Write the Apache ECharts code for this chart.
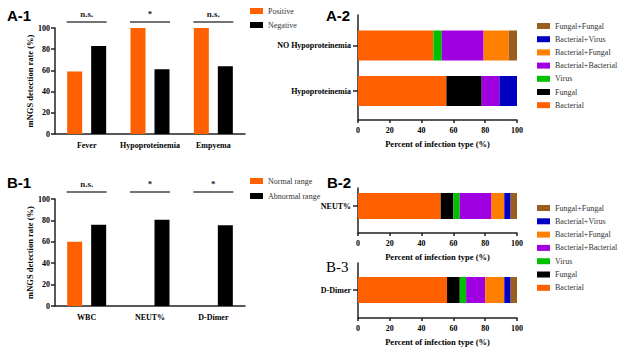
<!DOCTYPE html>
<html>
<head>
<meta charset="utf-8">
<script src="https://cdn.jsdelivr.net/npm/echarts@6/dist/echarts.min.js"></script>
<style>
html, body { margin: 0; padding: 0; background: #fff; }
#chart-container { width: 620px; height: 350px; }
</style>
</head>
<body>
<div id="chart-container"></div>
<script>
var dom = document.getElementById('chart-container');
var myChart = echarts.init(dom, null, { renderer: 'svg' });

// A-1: detection rate by clinical feature
var a1Categories = ['Fever', 'Hypoproteinemia', 'Empyema'];
var a1Positive = [59, 100, 100];
var a1Negative = [83, 61, 64];
var a1Signif = ['n.s.', '*', 'n.s.'];

// B-1: detection rate by lab index
var b1Categories = ['WBC', 'NEUT%', 'D-Dimer'];
var b1Normal = [60, 0, 0];
var b1Abnormal = [76, 80.5, 75.5];
var b1Signif = ['n.s.', '*', '*'];

// infection types, stacked left to right
var infectionTypes = ['Bacterial', 'Fungal', 'Virus', 'Bacterial+Bacterial',
  'Bacterial+Fungal', 'Bacterial+Virus', 'Fungal+Fungal'];

// A-2: percent of each type, [Hypoproteinemia, NO Hypoproteinemia]
var a2Categories = ['Hypoproteinemia', 'NO Hypoproteinemia'];
var a2Bacterial = [55.6, 47.4];
var a2Fungal = [22.2, 0];
var a2Virus = [0, 5.3];
var a2BactBact = [11.1, 26.3];
var a2BactFungal = [0, 15.8];
var a2BactVirus = [11.1, 0];
var a2FungalFungal = [0, 5.2];

// B-2 / B-3: percent of each type (same order as infectionTypes)
var b2Category = ['NEUT%'];
var b2Shares = [52, 8, 4, 20, 8, 4, 4];
var b3Category = ['D-Dimer'];
var b3Shares = [56, 8, 4, 12, 12, 4, 4];

var typeColors = ['#ff6000', '#000000', '#00c000', '#a000e0', '#ff8000', '#0000c0', '#9a5f1f'];
var serif = 'Liberation Serif';
var axisColor = '#222';

var tickFont = { fontFamily: serif, fontWeight: 'bold', fontSize: 8, color: '#000' };

function rateAxis(idx) {
  return {
    type: 'value', gridIndex: idx, min: 0, max: 100, interval: 20,
    name: 'mNGS detection rate (%)', nameLocation: 'middle', nameGap: 19,
    nameTextStyle: { fontFamily: serif, fontWeight: 'bold', fontSize: 8.5, color: '#000' },
    axisLine: { show: true, lineStyle: { color: axisColor, width: 1.5 } },
    axisTick: { show: true, length: 4, lineStyle: { color: axisColor, width: 1.5 } },
    axisLabel: Object.assign({ margin: 5 }, tickFont),
    splitLine: { show: false }
  };
}

function catXAxis(idx, cats) {
  return {
    type: 'category', gridIndex: idx, data: cats,
    axisLine: { lineStyle: { color: axisColor, width: 1.5 } },
    axisTick: { alignWithLabel: true, length: 4, lineStyle: { color: axisColor, width: 1.5 } },
    axisLabel: Object.assign({ margin: 7, interval: 0 }, tickFont)
  };
}

function percentXAxis(idx, show) {
  return {
    type: 'value', gridIndex: idx, min: 0, max: 100, interval: 20, show: show,
    name: 'Percent of infection type (%)', nameLocation: 'middle', nameGap: 19,
    nameTextStyle: { fontFamily: serif, fontWeight: 'bold', fontSize: 8.5, color: '#000' },
    axisLine: { show: true, lineStyle: { color: axisColor, width: 1.5 } },
    axisTick: { show: true, length: 3, lineStyle: { color: axisColor, width: 1.5 } },
    axisLabel: Object.assign({ margin: 6 }, tickFont),
    splitLine: { show: false }
  };
}

function frameYAxis(idx) {
  return {
    type: 'value', gridIndex: idx, min: 0, max: 1,
    axisLine: { show: true, lineStyle: { color: axisColor, width: 1.5 } },
    axisTick: { show: false }, axisLabel: { show: false }, splitLine: { show: false }
  };
}

function catYAxis(idx, cats) {
  return {
    type: 'category', gridIndex: idx, data: cats,
    axisLine: { show: false },
    axisTick: { show: true, alignWithLabel: true, length: 5, lineStyle: { color: axisColor, width: 1.5 } },
    axisLabel: Object.assign({ margin: 7, interval: 0 }, tickFont)
  };
}

function sigSeries(idx, labels, lift) {
  return {
    type: 'custom', xAxisIndex: idx, yAxisIndex: idx, silent: true, clip: false,
    data: labels.map(function (s, i) { return [i, 100]; }),
    renderItem: function (params, api) {
      var p = api.coord([api.value(0), api.value(1)]);
      var y = p[1] - lift;
      return {
        type: 'group',
        children: [
          { type: 'line', shape: { x1: p[0] - 20, y1: y, x2: p[0] + 20, y2: y },
            style: { stroke: '#444', lineWidth: 1.5 } },
          { type: 'text', style: { text: labels[params.dataIndex], x: p[0], y: y - 4,
            align: 'center', verticalAlign: 'bottom', fontFamily: serif,
            fontWeight: 'bold', fontSize: 9, fill: '#222' } }
        ]
      };
    }
  };
}

function vbar(name, idx, data, color) {
  return {
    name: name, type: 'bar', xAxisIndex: idx, yAxisIndex: idx, data: data,
    barWidth: 15, barGap: '60%', itemStyle: { color: color }
  };
}

function stackSeries(idx, stack, columns, width) {
  return infectionTypes.map(function (t, k) {
    return {
      name: t, type: 'bar', stack: stack, xAxisIndex: idx, yAxisIndex: idx,
      barWidth: width, data: columns[k], itemStyle: { color: typeColors[k] }
    };
  });
}

var a2Columns = [a2Bacterial, a2Fungal, a2Virus, a2BactBact, a2BactFungal, a2BactVirus, a2FungalFungal];
var b2Columns = b2Shares.map(function (v) { return [v]; });
var b3Columns = b3Shares.map(function (v) { return [v]; });

function legendBox(left, top, names, gap) {
  return {
    orient: 'vertical', left: left, top: top, data: names, selectedMode: false,
    icon: 'rect', itemWidth: 13, itemHeight: 6, itemGap: gap, padding: 0,
    textStyle: { fontFamily: serif, fontSize: 8, color: '#333', lineHeight: 10, overflow: 'none', width: 80 }
  };
}

var reversedTypes = infectionTypes.slice().reverse();

function panelTitle(text, left, top, isSerif) {
  return {
    type: 'text', left: left, top: top,
    style: {
      text: text, fill: '#000',
      font: isSerif ? '15px "Liberation Serif"' : 'bold 15px "Liberation Sans"'
    }
  };
}

var option = {
  animation: false,
  grid: [
    { left: 55, top: 28, width: 190, height: 106 },
    { left: 55, top: 199, width: 190, height: 107 },
    { left: 358, top: 15, width: 159, height: 105 },
    { left: 358, top: 22.75, width: 159, height: 91 },
    { left: 358, top: 188, width: 159, height: 45 },
    { left: 358, top: 188, width: 159, height: 36 },
    { left: 358, top: 263, width: 159, height: 55 },
    { left: 358, top: 263, width: 159, height: 54 }
  ],
  xAxis: [
    catXAxis(0, a1Categories),
    catXAxis(1, b1Categories),
    percentXAxis(2, true), percentXAxis(3, false),
    percentXAxis(4, true), percentXAxis(5, false),
    percentXAxis(6, true), percentXAxis(7, false)
  ],
  yAxis: [
    rateAxis(0), rateAxis(1),
    frameYAxis(2), catYAxis(3, a2Categories),
    frameYAxis(4), catYAxis(5, b2Category),
    frameYAxis(6), catYAxis(7, b3Category)
  ],
  legend: [
    legendBox(250, 6, ['Positive', 'Negative'], 4),
    legendBox(250, 176, ['Normal range', 'Abnormal range'], 5),
    legendBox(537, 21, reversedTypes, 3.2),
    legendBox(537, 203, reversedTypes, 3.3)
  ],
  graphic: [
    panelTitle('A-1', 7, 8, false),
    panelTitle('A-2', 326, 8, false),
    panelTitle('B-1', 7, 175, false),
    panelTitle('B-2', 327, 175, false),
    panelTitle('B-3', 326, 259, true)
  ],
  series: [
    vbar('Positive', 0, a1Positive, '#ff6000'),
    vbar('Negative', 0, a1Negative, '#000000'),
    sigSeries(0, a1Signif, 6),
    vbar('Normal range', 1, b1Normal, '#ff6000'),
    vbar('Abnormal range', 1, b1Abnormal, '#000000'),
    sigSeries(1, b1Signif, 7)
  ].concat(stackSeries(3, 'a2', a2Columns, 30))
   .concat(stackSeries(5, 'b2', b2Columns, 26))
   .concat(stackSeries(7, 'b3', b3Columns, 26))
};

myChart.setOption(option);
window.addEventListener('resize', myChart.resize);
</script>
</body>
</html>
